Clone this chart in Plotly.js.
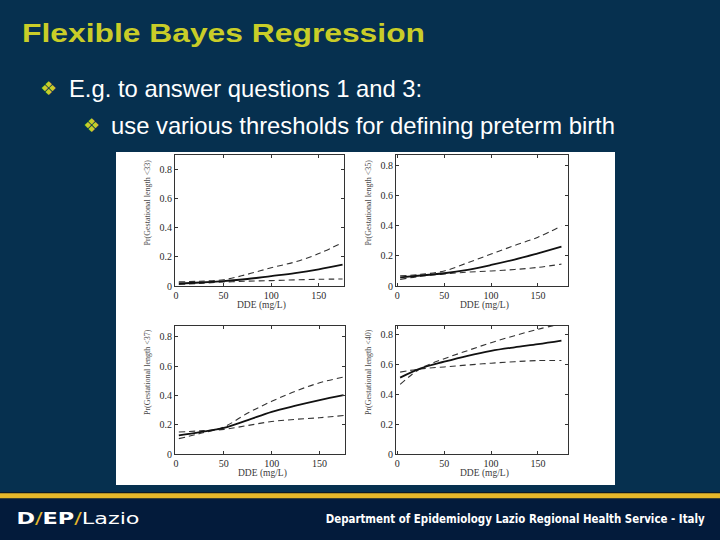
<!DOCTYPE html>
<html>
<head>
<meta charset="utf-8">
<script src="https://cdn.plot.ly/plotly-3.0.1.min.js"></script>
<style>html,body{margin:0;padding:0;background:#06304f;}#chart{width:720px;height:540px;}</style>
</head>
<body>
<div id="chart"></div>
<script>
// ---- data ----
const dde = [3, 25, 50, 75, 100, 125, 150, 175];

const lt33Mean  = [0.018, 0.024, 0.034, 0.048, 0.068, 0.088, 0.114, 0.146];
const lt33Upper = [0.028, 0.033, 0.043, 0.080, 0.125, 0.165, 0.222, 0.298];
const lt33Lower = [0.010, 0.018, 0.027, 0.033, 0.037, 0.042, 0.046, 0.048];

const lt35Mean  = [0.058, 0.070, 0.085, 0.108, 0.140, 0.176, 0.218, 0.262];
const lt35Upper = [0.068, 0.078, 0.100, 0.155, 0.213, 0.270, 0.325, 0.400];
const lt35Lower = [0.044, 0.065, 0.080, 0.092, 0.100, 0.110, 0.124, 0.146];

const lt37Mean  = [0.128, 0.150, 0.178, 0.232, 0.288, 0.330, 0.368, 0.402];
const lt37Upper = [0.105, 0.140, 0.185, 0.280, 0.360, 0.430, 0.487, 0.526];
const lt37Lower = [0.150, 0.158, 0.168, 0.195, 0.222, 0.237, 0.248, 0.263];

const lt40Mean  = [0.513, 0.575, 0.620, 0.660, 0.693, 0.717, 0.738, 0.762];
const lt40Upper = [0.468, 0.575, 0.640, 0.695, 0.748, 0.795, 0.838, 0.875];
const lt40Lower = [0.550, 0.572, 0.585, 0.598, 0.610, 0.620, 0.628, 0.628];

const yTitles = ["Pr(Gestational length <33)", "Pr(Gestational length <35)",
                 "Pr(Gestational length <37)", "Pr(Gestational length <40)"];
const xTitle = "DDE (mg/L)";
const xTicks = [0, 50, 100, 150];
const yTicks = [0, 0.2, 0.4, 0.6, 0.8];

const slideTitle = "Flexible Bayes Regression";
const bullet1 = "E.g. to answer questions 1 and 3:";
const bullet2 = "use various thresholds for defining preterm birth";
const footerRight = "Department of Epidemiology Lazio Regional Health Service - Italy";

// ---- build ----
const W = 720, H = 540;
const px = v => v / W;
const py = v => (H - v) / H;

const panels = [
  {mean: lt33Mean, up: lt33Upper, lo: lt33Lower, box: [175, 344, 155, 286], xr: [-1, 176.5], yr: [0, 0.898]},
  {mean: lt35Mean, up: lt35Upper, lo: lt35Lower, box: [396, 568, 155, 286], xr: [-1.4, 182], yr: [0, 0.873]},
  {mean: lt37Mean, up: lt37Upper, lo: lt37Lower, box: [175, 345, 326, 454], xr: [-1, 176.5], yr: [0, 0.875]},
  {mean: lt40Mean, up: lt40Upper, lo: lt40Lower, box: [396, 568, 326, 454], xr: [-1.4, 182], yr: [0, 0.86]}
];

const serif = "Liberation Serif, DejaVu Serif, serif";
const accent = "#c9cd28";
const traces = [];
const layout = {
  width: W, height: H,
  margin: {l: 0, r: 0, t: 0, b: 0},
  paper_bgcolor: "#06304f",
  plot_bgcolor: "rgba(0,0,0,0)",
  showlegend: false,
  title: {
    text: slideTitle,
    x: px(22), xanchor: "left", xref: "paper",
    y: 1 - 33 / H, yanchor: "middle", yref: "container",
    font: {family: "Liberation Sans, Arial, sans-serif", size: 26, weight: 700, color: accent}
  },
  shapes: [
    {type: "rect", xref: "paper", yref: "paper", x0: px(116), x1: px(615), y0: py(485), y1: py(152),
     fillcolor: "#ffffff", line: {width: 0}, layer: "below"},
    {type: "rect", xref: "paper", yref: "paper", x0: 0, x1: 1, y0: 0, y1: py(492),
     fillcolor: "#0d1a26", line: {width: 0}, layer: "below"},
    {type: "rect", xref: "paper", yref: "paper", x0: 0, x1: 1, y0: py(498.5), y1: py(493.3),
     fillcolor: "#e6b82a", line: {width: 0}, layer: "below"},
    {type: "rect", xref: "paper", yref: "paper", x0: 0, x1: 1, y0: 0, y1: py(498.5),
     fillcolor: "#031b3b", line: {width: 0}, layer: "below"}
  ],
  annotations: [
    {text: "\u2756", xref: "paper", yref: "paper", x: px(48.5), y: py(87.5), xanchor: "center", yanchor: "middle",
     showarrow: false, font: {family: "DejaVu Sans", size: 19, color: accent}},
    {text: bullet1, xref: "paper", yref: "paper", x: px(67), y: py(88), xanchor: "left", yanchor: "middle",
     showarrow: false, font: {family: "Liberation Sans, Arial, sans-serif", size: 23.8, color: "#ffffff"}},
    {text: "\u2756", xref: "paper", yref: "paper", x: px(91.5), y: py(125), xanchor: "center", yanchor: "middle",
     showarrow: false, font: {family: "DejaVu Sans", size: 19, color: accent}},
    {text: bullet2, xref: "paper", yref: "paper", x: px(109), y: py(126), xanchor: "left", yanchor: "middle",
     showarrow: false, font: {family: "Liberation Sans, Arial, sans-serif", size: 23.8, color: "#ffffff"}},
    {text: "<b>D</b><span style='color:#e6b82a'>/</span><b>EP</b><span style='color:#e6b82a'>/</span>Lazio",
     xref: "paper", yref: "paper", x: px(77.5), y: py(518.5), xanchor: "center", yanchor: "middle",
     showarrow: false, font: {family: "DejaVu Sans, sans-serif", size: 16, color: "#ffffff"}},
    {text: "<b>" + footerRight + "</b>", xref: "paper", yref: "paper", x: px(515.5), y: py(519), xanchor: "center", yanchor: "middle",
     showarrow: false, font: {family: "Liberation Sans Narrow, DejaVu Sans Condensed, sans-serif", size: 11.5, color: "#ffffff"}}
  ]
};

panels.forEach((p, i) => {
  const n = i + 1;
  const xa = "x" + (n === 1 ? "" : n), ya = "y" + (n === 1 ? "" : n);
  const [l, r, t, b] = p.box;
  const common = {x: dde, xaxis: xa, yaxis: ya, mode: "lines", hoverinfo: "skip"};
  traces.push(Object.assign({}, common, {y: p.up, line: {color: "#333333", width: 1.1, dash: "6px,4px", shape: "spline"}}));
  traces.push(Object.assign({}, common, {y: p.lo, line: {color: "#333333", width: 1.1, dash: "6px,4px", shape: "spline"}}));
  traces.push(Object.assign({}, common, {y: p.mean, line: {color: "#111111", width: 1.8, shape: "spline"}}));
  const axBase = {
    showline: true, linecolor: "#333333", linewidth: 1, mirror: "allticks",
    ticks: "inside", ticklen: 3, tickcolor: "#333333", showgrid: false, zeroline: false,
    tickfont: {family: serif, size: 10, color: "#2a2a2a"}, fixedrange: true
  };
  layout["xaxis" + (n === 1 ? "" : n)] = Object.assign({}, axBase, {
    domain: [px(l), px(r)], range: p.xr, anchor: ya, tickvals: xTicks, ticktext: xTicks.map(String)
  });
  layout["yaxis" + (n === 1 ? "" : n)] = Object.assign({}, axBase, {
    domain: [py(b), py(t)], range: p.yr, anchor: xa, tickvals: yTicks, ticktext: yTicks.map(String)
  });
  layout.annotations.push({text: xTitle, xref: "paper", yref: "paper", x: px((l + r) / 2 + 2), y: py(b + 19),
    xanchor: "center", yanchor: "middle", showarrow: false, font: {family: serif, size: 9.5, color: "#3a3a3a"}});
  layout.annotations.push({text: yTitles[i], xref: "paper", yref: "paper", x: px(l - 28), y: py((t + b) / 2 - 18),
    xanchor: "center", yanchor: "middle", textangle: -90, showarrow: false, font: {family: serif, size: 8, color: "#4a4a4a"}});
});

Plotly.newPlot("chart", traces, layout, {staticPlot: true, displayModeBar: false}).then(gd => {
  const t = gd.querySelector(".gtitle");
  if (t) { t.setAttribute("textLength", "403"); t.setAttribute("lengthAdjust", "spacingAndGlyphs"); }
  const ann = gd.querySelectorAll(".annotation-text");
  if (ann[4]) { ann[4].setAttribute("textLength", "123"); ann[4].setAttribute("lengthAdjust", "spacingAndGlyphs"); }
  if (ann[5]) { ann[5].setAttribute("textLength", "379"); ann[5].setAttribute("lengthAdjust", "spacingAndGlyphs"); }
});
</script>
</body>
</html>
